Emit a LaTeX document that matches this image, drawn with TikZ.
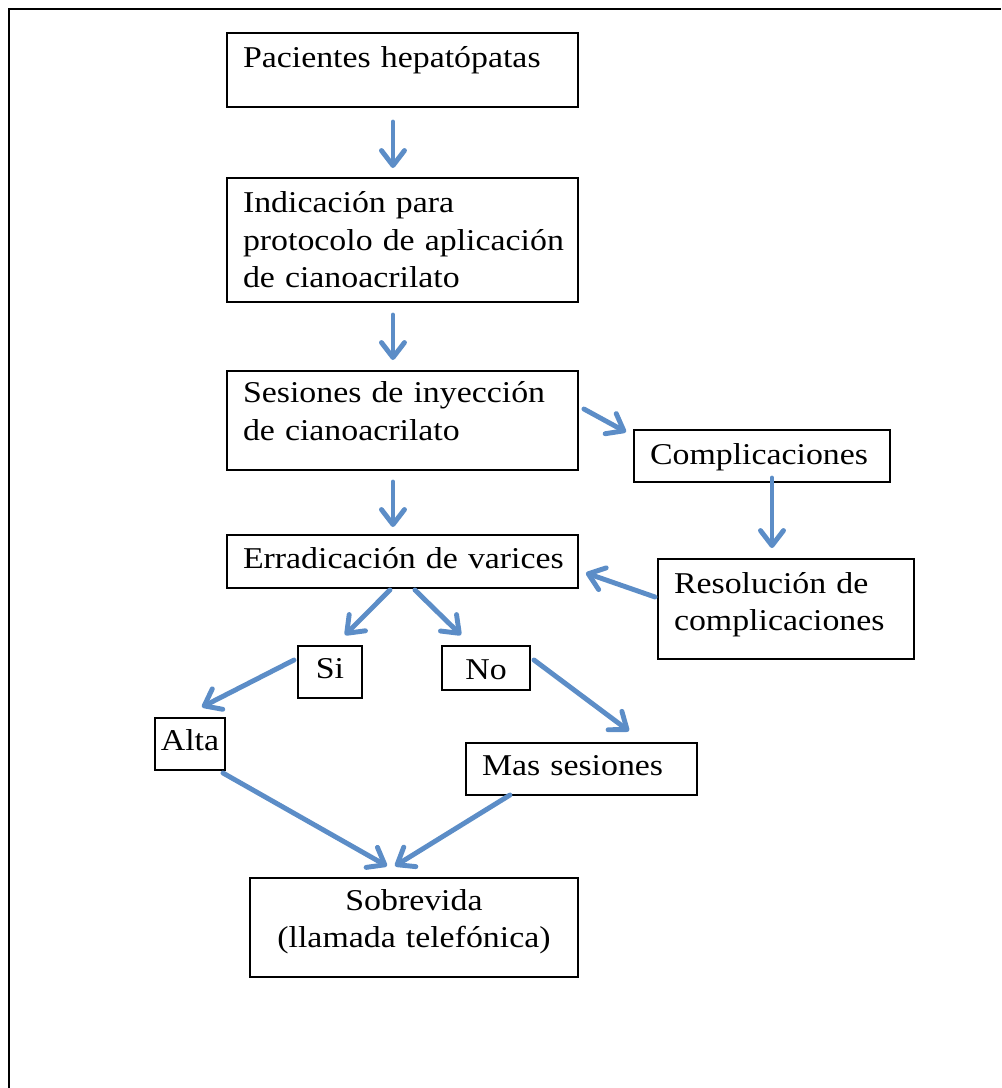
\documentclass[tikz,border=0pt]{standalone}
\usepackage{fontspec}
\setmainfont[FakeStretch=1.12]{Liberation Serif}
\usetikzlibrary{arrows.meta}
\definecolor{arrblue}{RGB}{92,141,199}

\begin{document}
\begin{tikzpicture}[
    x=0.02cm, y=-0.02cm,
    frame/.style={draw, line width=0.8pt, rectangle, anchor=north west, inner ysep=0pt, outer sep=0pt, font=\fontsize{17.2}{21.3}\selectfont},
    box/.style={frame, align=left, inner xsep=0pt, execute at begin node={\leftskip=0.32cm\hyphenpenalty=10000}},
    cbox/.style={frame, align=center, inner xsep=0pt},
    tag/.style={frame, inner xsep=0.1cm},
    arr/.style={arrblue, line width=2.8pt, line cap=round, -{Straight Barb[length=3mm, width=4.6mm, round]}}
]
    \useasboundingbox (0,0) rectangle (1001,1088);
    \draw[line width=1pt] (9,1088) -- (9,9) -- (1001,9);

    % main column
    \node[box, text width=7.02cm, text height=0.70cm, text depth=0.78cm] (pac) at (227,33) {Pacientes hepatópatas};
    \node[box, text width=7.02cm, text height=0.70cm, text depth=1.78cm] (ind) at (227,178) {Indicación para\\protocolo de aplicación\\de cianoacrilato};
    \node[box, text width=7.02cm, text height=0.64cm, text depth=1.34cm] (ses) at (227,371) {Sesiones de inyección\\de cianoacrilato};
    \node[box, text width=7.02cm, text height=0.68cm, text depth=0.38cm] (err) at (227,535) {Erradicación de varices};

    % complications branch
    \node[box, text width=5.12cm, text height=0.70cm, text depth=0.34cm] (com) at (634,430) {Complicaciones};
    \node[box, text width=5.12cm, text height=0.68cm, text depth=1.32cm] (res) at (658,559) {Resolución de\\complicaciones};

    % outcome
    \node[tag, minimum width=1.28cm, text height=0.64cm, text depth=0.40cm] (si) at (298,646) {Si};
    \node[tag, minimum width=1.76cm, text height=0.66cm, text depth=0.22cm] (no) at (442,646) {No};
    \node[tag, minimum width=1.40cm, text height=0.64cm, text depth=0.40cm] (alta) at (155,718) {Alta};
    \node[box, text width=4.62cm, text height=0.64cm, text depth=0.40cm] (mas) at (466,743) {Mas sesiones};
    \node[cbox, text width=6.56cm, text height=0.64cm, text depth=1.34cm] (sob) at (250,878) {Sobrevida\\(llamada telefónica)};

    \draw[arr] ([shift={(-9.5,15)}]pac.south) -- ([shift={(-9.5,-10)}]ind.north);
    \draw[arr] ([shift={(-9.5,13)}]ind.south) -- ([shift={(-9.5,-11)}]ses.north);
    \draw[arr] ([shift={(6,38)}]ses.north east) -- ([shift={(-8,2)}]com.north west);
    \draw[arr] ([shift={(-9.5,12)}]ses.south) -- ([shift={(-9.5,-8)}]err.north);
    \draw[arr] ([shift={(10,-4)}]com.south) -- ([shift={(-14,-11)}]res.north);
    \draw[arr] ([shift={(-3,-12)}]res.west) -- ([shift={(8,11.5)}]err.east);
    \draw[arr] ([shift={(-12.5,2)}]err.south) -- ([shift={(15,-11)}]si.north);
    \draw[arr] ([shift={(12.5,2)}]err.south) -- ([shift={(-25,-11)}]no.north);
    \draw[arr] ([shift={(-4,-12)}]si.west) -- ([shift={(12,-11)}]alta.north);
    \draw[arr] ([shift={(4,-8)}]no.east) -- ([shift={(47.5,-12)}]mas.north);
    \draw[arr] ([shift={(33,3)}]alta.south) -- ([shift={(-27,-12)}]sob.north);
    \draw[arr] ([shift={(-71.5,0)}]mas.south) -- ([shift={(-19,-12)}]sob.north);
\end{tikzpicture}
\end{document}
